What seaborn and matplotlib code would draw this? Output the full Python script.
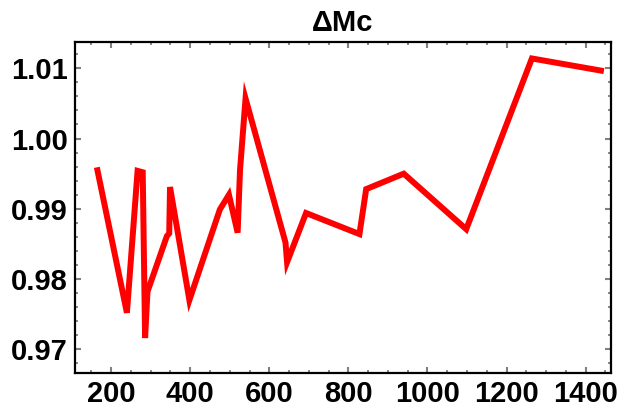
import matplotlib
matplotlib.use("Agg")
import matplotlib.pyplot as plt
from matplotlib.ticker import MultipleLocator
import seaborn as sns
import pandas as pd

sns.set_theme(style="white")
plt.rcParams["font.family"] = ["Liberation Sans", "DejaVu Sans"]

# Sample positions and the ratio values measured at each one
x_vals = [164, 240, 267, 280, 286, 292, 341, 347, 349, 398, 475, 498, 520,
          526, 540, 641, 645, 693, 828, 845, 940, 1098, 1264, 1446]
ratio = [0.9959, 0.9752, 0.9954, 0.9952, 0.9716, 0.9782, 0.9861, 0.9865,
         0.9931, 0.9770, 0.9899, 0.9920, 0.9866, 0.9955, 1.0057, 0.9852,
         0.9824, 0.9894, 0.9864, 0.9928, 0.9950, 0.9871, 1.0114, 1.0096]

x_ticks = [200, 400, 600, 800, 1000, 1200, 1400]
y_ticks = [0.97, 0.98, 0.99, 1.00, 1.01]
y_tick_labels = ["0.97", "0.98", "0.99", "1.00", "1.01"]

df = pd.DataFrame({"x": x_vals, "ratio": ratio})

fig = plt.figure(figsize=(6.23, 4.12), dpi=100)
ax = fig.add_axes([0.1199, 0.0954, 0.9807 - 0.1199, 0.898 - 0.0954])

sns.lineplot(data=df, x="x", y="ratio", sort=False, ax=ax, color="#ff0000",
             linewidth=4.3, solid_joinstyle="miter", solid_capstyle="butt")

ax.set_xlim(108, 1464)
ax.set_ylim(0.96667, 1.01374)
ax.set_xticks(x_ticks)
ax.set_yticks(y_ticks)
ax.set_yticklabels(y_tick_labels)
ax.xaxis.set_minor_locator(MultipleLocator(50))
ax.yaxis.set_minor_locator(MultipleLocator(0.002))

ax.set_xlabel("")
ax.set_ylabel("")
ax.set_title("ΔMc", fontsize=21, fontweight="bold", pad=8, color="black")

for side in ax.spines.values():
    side.set_color("black")
    side.set_linewidth(1.6)

ax.tick_params(which="both", direction="in", top=True, right=True,
               bottom=True, left=True, color="#808080")
ax.tick_params(which="major", length=4.2, width=1.5, labelsize=21, pad=5)
ax.tick_params(which="minor", length=2.4, width=1.3)
for lbl in ax.get_xticklabels() + ax.get_yticklabels():
    lbl.set_fontweight("bold")
    lbl.set_color("black")

fig.savefig("out.png", dpi=100, facecolor="white")
